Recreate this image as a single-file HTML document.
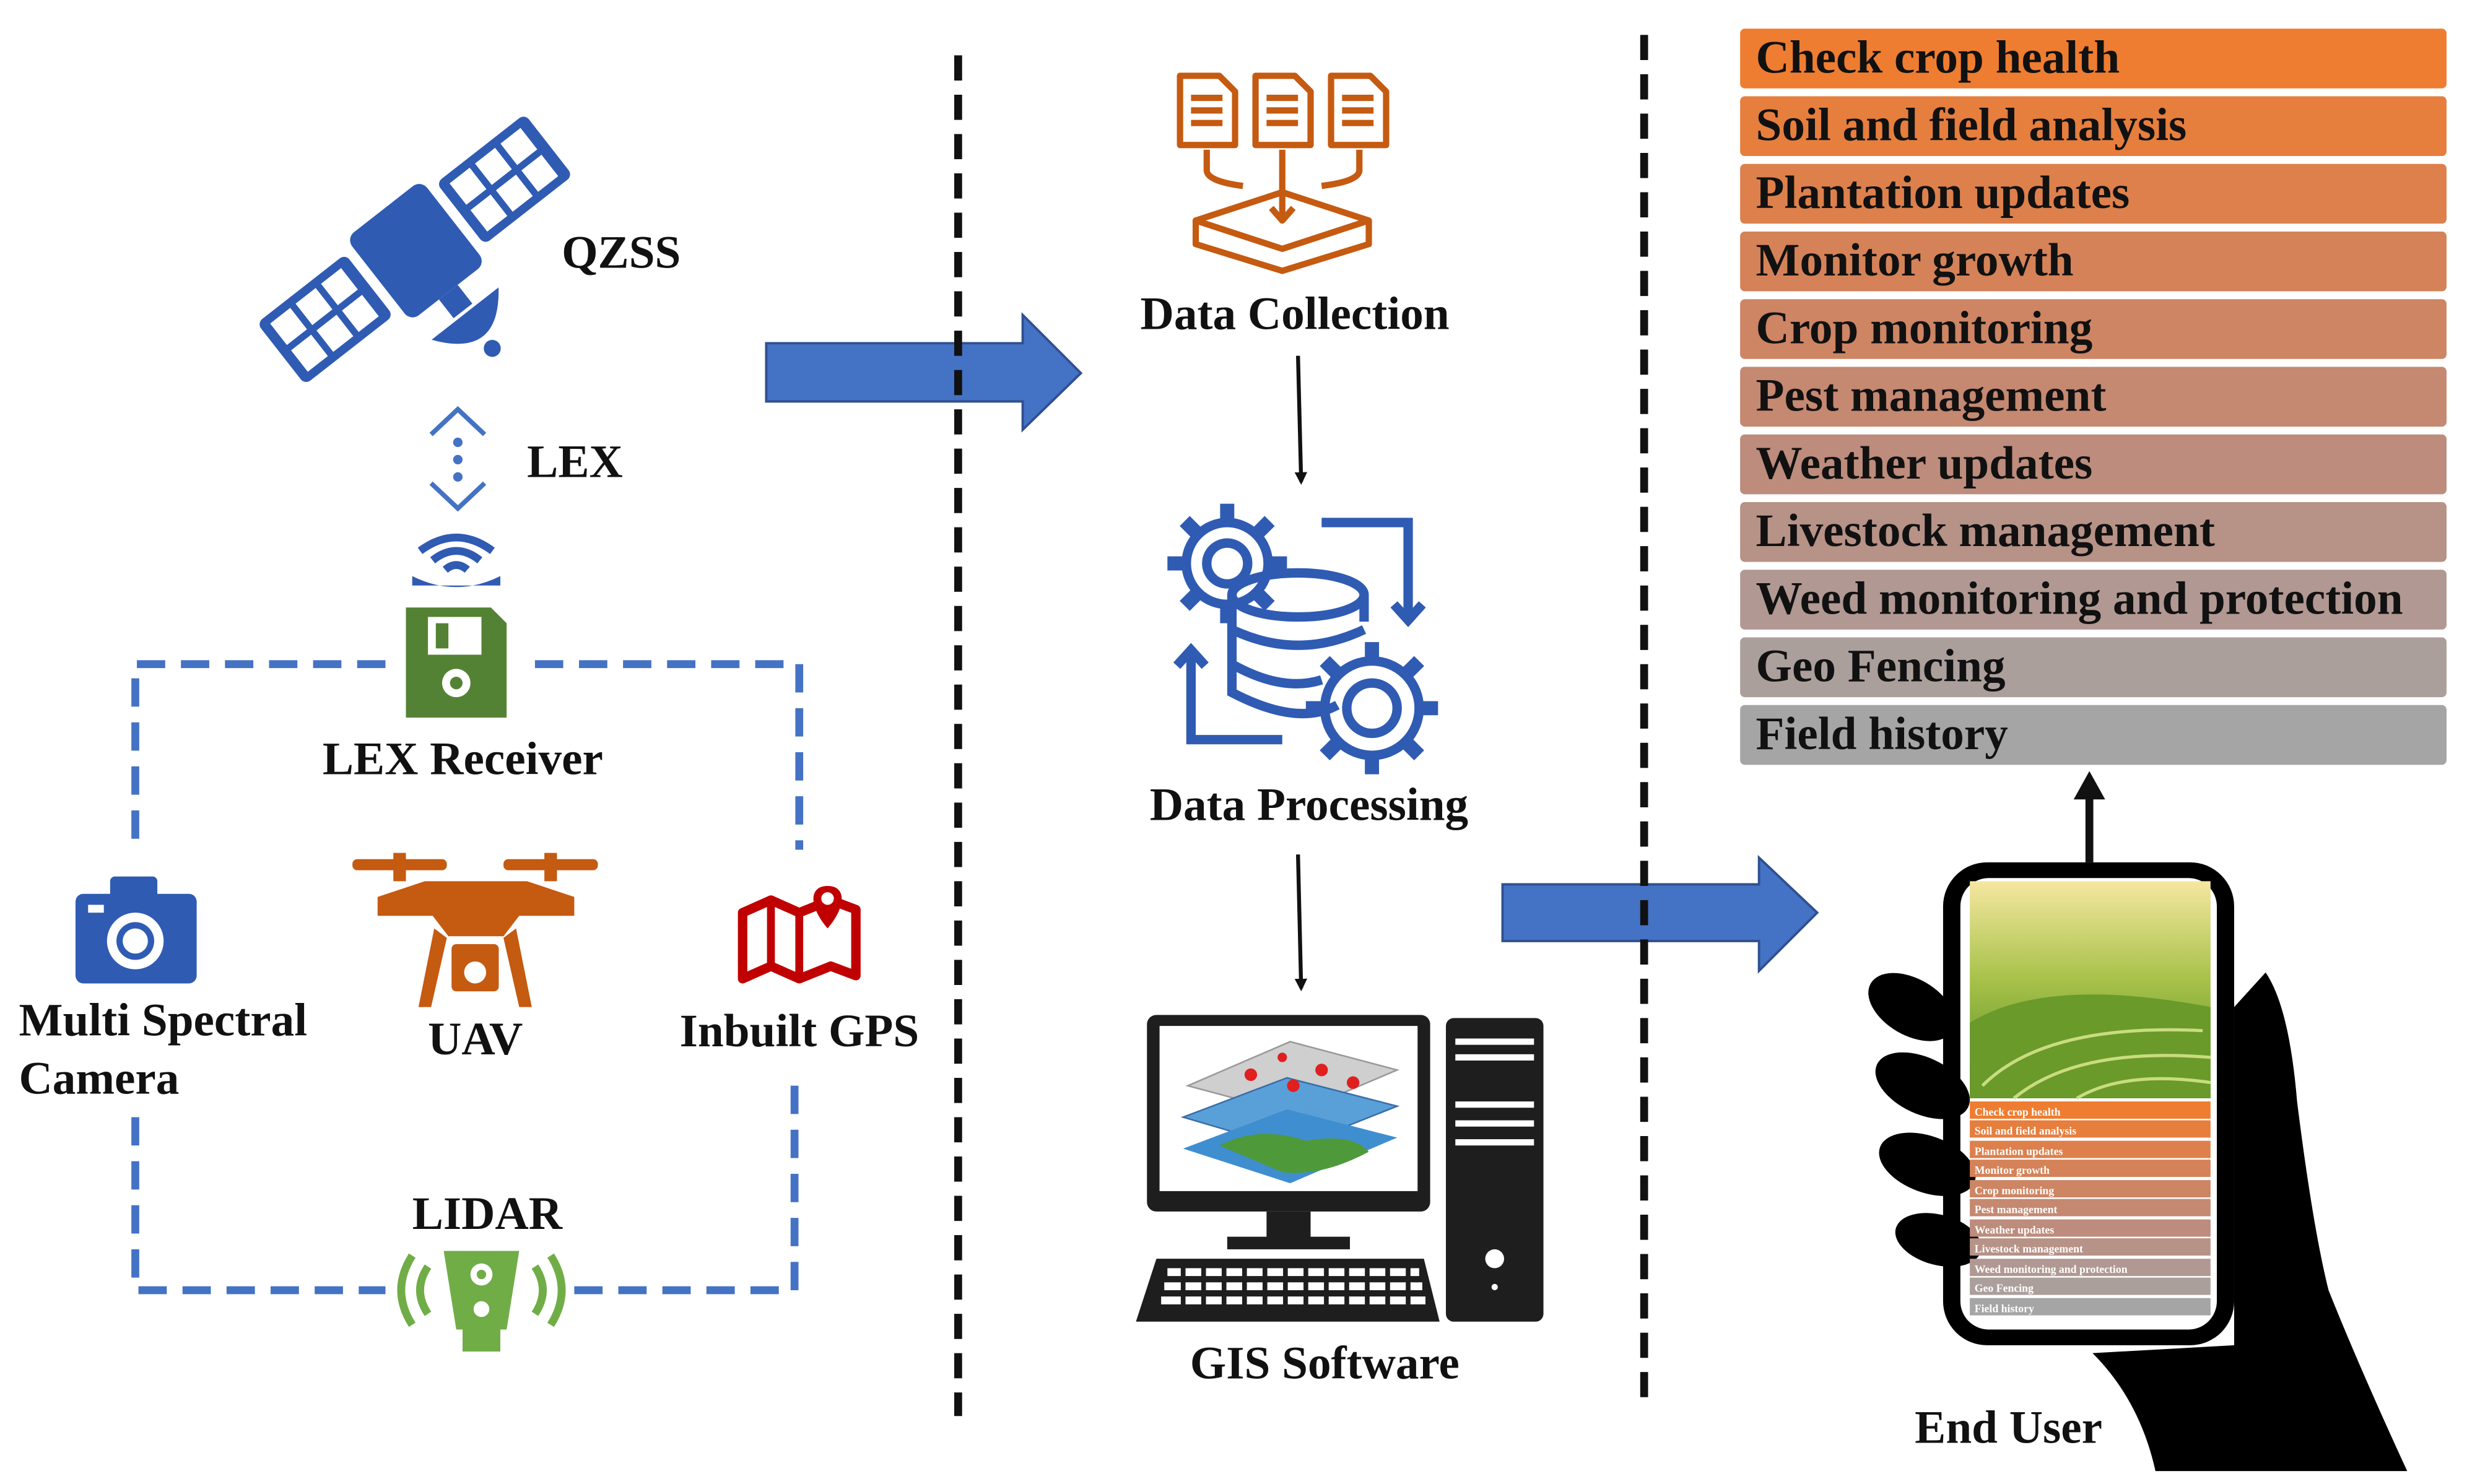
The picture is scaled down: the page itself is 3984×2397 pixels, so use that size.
<!DOCTYPE html>
<html><head><meta charset="utf-8"><style>
html,body{margin:0;padding:0;background:#fff;}
svg{display:block;}
text{font-family:"Liberation Serif","DejaVu Serif",serif;font-weight:bold;fill:#111;}
</style></head><body>
<svg width="3984" height="2397" viewBox="0 0 1568 943" xmlns="http://www.w3.org/2000/svg">
<defs>
<marker id="ah" markerWidth="8" markerHeight="8" refX="6" refY="4" orient="auto" markerUnits="userSpaceOnUse"><path d="M0,0 L8,4 L0,8 Z" fill="#111"/></marker>
<linearGradient id="sky" x1="0" y1="0" x2="0" y2="1"><stop offset="0" stop-color="#f5e7a0"/><stop offset="0.45" stop-color="#a8c24a"/><stop offset="1" stop-color="#4f8a22"/></linearGradient>
</defs>

<!-- Satellite -->
<g transform="rotate(-38 265 160) translate(265 160) scale(1.08) translate(-265 -160)" fill="#2f5bb3">
  <rect x="237" y="128" width="56" height="62" rx="6"/>
  <g>
    <rect x="165" y="135" width="66" height="46" rx="4" fill="#2f5bb3"/>
    <rect x="299" y="135" width="66" height="46" rx="4" fill="#2f5bb3"/>
    <g fill="#fff">
      <rect x="171" y="140" width="15" height="16"/><rect x="190" y="140" width="15" height="16"/><rect x="209" y="140" width="15" height="16"/>
      <rect x="171" y="160" width="15" height="16"/><rect x="190" y="160" width="15" height="16"/><rect x="209" y="160" width="15" height="16"/>
      <rect x="305" y="140" width="15" height="16"/><rect x="324" y="140" width="15" height="16"/><rect x="343" y="140" width="15" height="16"/>
      <rect x="305" y="160" width="15" height="16"/><rect x="324" y="160" width="15" height="16"/><rect x="343" y="160" width="15" height="16"/>
    </g>
  </g>
  <rect x="258" y="190" width="14" height="14"/>
  <path d="M240,206 Q265,240 290,206 Z"/>
  <circle cx="265" cy="232" r="5"/>
</g>
<text x="357" y="170" font-size="29.6">QZSS</text>

<!-- LEX -->
<g stroke="#4472c4" stroke-width="3" fill="none">
  <path d="M274,276 L291,260 L308,276"/>
  <path d="M274,307 L291,323 L308,307"/>
</g>
<g fill="#4472c4"><circle cx="291" cy="281" r="3"/><circle cx="291" cy="292" r="3"/><circle cx="291" cy="303" r="3"/></g>
<text x="335" y="303" font-size="29.6">LEX</text>
<g stroke="#2f5bb3" stroke-width="5" fill="none">
  <path d="M283,362 Q290,356 297,362"/>
  <path d="M275,356 Q290,344 305,356"/>
  <path d="M267,350 Q290,333 313,350"/>
</g>
<path d="M262,366 Q290,380 318,366 L318,372 L262,372 Z" fill="#2f5bb3"/>

<!-- LEX receiver -->
<path d="M258,386 L312,386 L322,396 L322,456 L258,456 Z" fill="#548235"/>
<rect x="272" y="392" width="34" height="24" fill="#fff"/>
<rect x="277" y="396" width="8" height="16" fill="#548235"/>
<circle cx="290" cy="434" r="9" fill="#fff"/><circle cx="290" cy="434" r="4" fill="#548235"/>

<!-- dashed box -->
<g stroke="#4472c4" stroke-width="5" stroke-dasharray="18,10" fill="none">
  <path d="M245,422 L86,422 L86,540"/>
  <path d="M340,422 L508,422 L508,540"/>
  <path d="M86,710 L86,820 L245,820"/>
  <path d="M365,820 L505,820 L505,683"/>
</g>
<text x="205" y="492" font-size="29.6">LEX Receiver</text>

<!-- Camera -->
<rect x="48" y="568" width="77" height="57" rx="5" fill="#2f5bb3"/>
<rect x="70" y="557" width="30" height="14" rx="3" fill="#2f5bb3"/>
<circle cx="86" cy="598" r="18" fill="#fff"/><circle cx="86" cy="598" r="12" fill="#2f5bb3"/><circle cx="86" cy="598" r="8" fill="#fff"/>
<rect x="56" y="575" width="10" height="5" fill="#fff"/>
<text x="12" y="658" font-size="29.6">Multi Spectral</text>
<text x="12" y="695" font-size="29.6">Camera</text>

<!-- UAV -->
<g fill="#c55a11">
  <rect x="224" y="546" width="60" height="7" rx="3"/><rect x="320" y="546" width="60" height="7" rx="3"/>
  <rect x="250" y="542" width="8" height="18"/><rect x="346" y="542" width="8" height="18"/>
  <path d="M240,570 L270,560 L335,560 L365,570 L365,582 L330,582 L320,595 L285,595 L275,582 L240,582 Z"/>
  <rect x="287" y="600" width="30" height="30" rx="3"/>
  <path d="M276,590 L266,640 L274,640 L284,596 Z"/><path d="M328,590 L338,640 L330,640 L320,596 Z"/>
</g>
<circle cx="302" cy="618" r="7" fill="#fff"/>
<text x="272" y="670" font-size="29.6">UAV</text>

<!-- GPS -->
<path d="M472,580 L490,572 L508,580 L528,572 L544,578 L544,620 L528,614 L508,622 L490,614 L472,622 Z" fill="none" stroke="#c00000" stroke-width="6" stroke-linejoin="round"/>
<line x1="490" y1="574" x2="490" y2="614" stroke="#c00000" stroke-width="5"/>
<line x1="508" y1="580" x2="508" y2="620" stroke="#c00000" stroke-width="5"/>
<path d="M526,590 C514,576 514,563 526,563 C538,563 538,576 526,590 Z" fill="#c00000"/>
<circle cx="526" cy="571" r="4" fill="#fff"/>
<text x="432" y="665" font-size="29.6">Inbuilt GPS</text>

<!-- LIDAR -->
<text x="262" y="781" font-size="29.6">LIDAR</text>
<path d="M282,795 L330,795 L322,845 L290,845 Z" fill="#70ad47"/>
<rect x="294" y="845" width="24" height="14" fill="#70ad47"/>
<circle cx="306" cy="810" r="7" fill="#fff"/><circle cx="306" cy="810" r="3" fill="#70ad47"/>
<circle cx="306" cy="832" r="5" fill="#fff"/>
<g stroke="#70ad47" stroke-width="5" fill="none">
  <path d="M272,805 Q262,820 272,835"/><path d="M262,798 Q248,820 262,842"/>
  <path d="M340,805 Q350,820 340,835"/><path d="M350,798 Q364,820 350,842"/>
</g>

<!-- Big arrows -->
<path d="M487,218 L650,218 L650,200 L687,237 L650,273 L650,255 L487,255 Z" fill="#4472c4" stroke="#2f4f8f" stroke-width="1.5"/>
<path d="M955,562 L1118,562 L1118,545 L1155,580 L1118,617 L1118,598 L955,598 Z" fill="#4472c4" stroke="#2f4f8f" stroke-width="1.5"/>

<!-- dashed separators -->
<line x1="609" y1="35" x2="609" y2="900" stroke="#111" stroke-width="5" stroke-dasharray="16,9"/>
<line x1="1045" y1="22" x2="1045" y2="890" stroke="#111" stroke-width="5" stroke-dasharray="16,9"/>

<!-- Data collection icon -->
<g fill="none" stroke="#c55a11" stroke-width="4" stroke-linejoin="round">
  <path d="M750,48 L775,48 L785,58 L785,92 L750,92 Z"/>
  <path d="M798,48 L823,48 L833,58 L833,92 L798,92 Z"/>
  <path d="M846,48 L871,48 L881,58 L881,92 L846,92 Z"/>
  <path d="M757,62 H777 M757,70 H777 M757,78 H777 M805,62 H825 M805,70 H825 M805,78 H825 M853,62 H873 M853,70 H873 M853,78 H873"/>
  <path d="M767,95 V108 Q767,115 790,118"/><path d="M864,95 V108 Q864,115 840,118"/>
  <path d="M815,95 V140"/><path d="M808,132 L815,140 L822,132"/>
  <path d="M760,140 L815,122 L870,140 L815,158 Z"/>
  <path d="M760,140 V155 L815,172 L870,155 V140"/>
</g>
<text x="823" y="209" font-size="29.6" text-anchor="middle">Data Collection</text>
<line x1="825" y1="226" x2="827" y2="306" stroke="#111" stroke-width="2.5" marker-end="url(#ah)"/>

<!-- Data processing icon -->
<g fill="none" stroke="#2f5bb3" stroke-width="6">
  <ellipse cx="825" cy="378" rx="42" ry="14"/>
  <path d="M783,378 V440 Q825,462 850,448"/>
  <path d="M783,400 Q825,420 867,400"/><path d="M783,422 Q815,440 840,432"/>
  <path d="M867,378 V395"/>
  <circle cx="780" cy="358" r="26"/><circle cx="780" cy="358" r="13"/>
  <circle cx="872" cy="450" r="30"/><circle cx="872" cy="450" r="16"/>
  <path d="M840,332 H895 V392"/><path d="M886,384 L895,394 L904,384"/>
  <path d="M757,415 V470 H815"/><path d="M748,423 L757,413 L766,423"/>
</g>
<g stroke="#2f5bb3" stroke-width="9" stroke-linecap="butt">
  <path d="M780,320 V330 M780,386 V396 M742,358 H752 M808,358 H818 M753,331 L760,338 M800,378 L807,385 M753,385 L760,378 M800,338 L807,331"/>
  <path d="M872,408 V418 M872,482 V492 M830,450 H840 M904,450 H914 M842,420 L849,427 M895,473 L902,480 M842,480 L849,473 M895,427 L902,420"/>
</g>
<text x="832" y="521" font-size="29.6" text-anchor="middle">Data Processing</text>
<line x1="825" y1="543" x2="827" y2="628" stroke="#111" stroke-width="2.5" marker-end="url(#ah)"/>

<!-- Computer -->
<rect x="729" y="645" width="180" height="125" rx="6" fill="#1e1e1e"/>
<rect x="737" y="652" width="164" height="105" fill="#fff"/>
<path d="M755,690 L820,662 L888,680 L822,708 Z" fill="#cfcfcf" stroke="#999"/>
<path d="M752,710 L818,685 L888,703 L820,730 Z" fill="#5aa0d8" stroke="#3a6da8"/>
<path d="M752,730 L818,705 L888,723 L820,752 Z" fill="#3f8ed0"/>
<path d="M775,728 Q800,715 830,725 Q860,720 870,732 Q840,748 815,745 Z" fill="#4e9a3a"/>
<g fill="#e02020"><circle cx="795" cy="683" r="4"/><circle cx="822" cy="690" r="4"/><circle cx="840" cy="680" r="4"/><circle cx="860" cy="688" r="4"/><circle cx="815" cy="672" r="3"/></g>
<rect x="805" y="770" width="28" height="18" fill="#1e1e1e"/>
<rect x="780" y="786" width="78" height="8" fill="#1e1e1e"/>
<path d="M735,800 L905,800 L915,840 L722,840 Z" fill="#1e1e1e"/>
<g fill="#fff">
  <rect x="742" y="806" width="160" height="5"/><rect x="740" y="815" width="164" height="5"/><rect x="738" y="824" width="168" height="5"/>
</g>
<g stroke="#1e1e1e" stroke-width="3">
  <path d="M752,804 V832 M765,804 V832 M778,804 V832 M791,804 V832 M804,804 V832 M817,804 V832 M830,804 V832 M843,804 V832 M856,804 V832 M869,804 V832 M882,804 V832 M895,804 V832"/>
</g>
<rect x="919" y="647" width="62" height="193" rx="5" fill="#1e1e1e"/>
<g fill="#fff"><rect x="925" y="660" width="50" height="4"/><rect x="925" y="670" width="50" height="4"/><rect x="925" y="700" width="50" height="4"/><rect x="925" y="712" width="50" height="4"/><rect x="925" y="724" width="50" height="4"/></g>
<circle cx="950" cy="800" r="6" fill="#fff"/><circle cx="950" cy="818" r="2" fill="#fff"/>
<text x="842" y="876" font-size="29.6" text-anchor="middle">GIS Software</text>

<!-- Right bars -->
<g>
<rect x="1106" y="18" width="449" height="38" rx="3" fill="#ee7d31"/>
<rect x="1106" y="61" width="449" height="38" rx="3" fill="#e67e3e"/>
<rect x="1106" y="104" width="449" height="38" rx="3" fill="#dd804c"/>
<rect x="1106" y="147" width="449" height="38" rx="3" fill="#d58258"/>
<rect x="1106" y="190" width="449" height="38" rx="3" fill="#cd8564"/>
<rect x="1106" y="233" width="449" height="38" rx="3" fill="#c58870"/>
<rect x="1106" y="276" width="449" height="38" rx="3" fill="#bd8c7c"/>
<rect x="1106" y="319" width="449" height="38" rx="3" fill="#b79287"/>
<rect x="1106" y="362" width="449" height="38" rx="3" fill="#b19892"/>
<rect x="1106" y="405" width="449" height="38" rx="3" fill="#ab9f9c"/>
<rect x="1106" y="448" width="449" height="38" rx="3" fill="#a5a5a5"/>
</g>
<g font-size="29.6">
<text x="1116" y="46">Check crop health</text>
<text x="1116" y="89">Soil and field analysis</text>
<text x="1116" y="132">Plantation updates</text>
<text x="1116" y="175">Monitor growth</text>
<text x="1116" y="218">Crop monitoring</text>
<text x="1116" y="261">Pest management</text>
<text x="1116" y="304">Weather updates</text>
<text x="1116" y="347">Livestock management</text>
<text x="1116" y="390">Weed monitoring and protection</text>
<text x="1116" y="433">Geo Fencing</text>
<text x="1116" y="476">Field history</text>
</g>
<line x1="1328" y1="548" x2="1328" y2="500" stroke="#111" stroke-width="5"/>
<path d="M1318,508 L1328,490 L1338,508 Z" fill="#111"/>

<!-- Hand & phone -->
<path d="M1420,640 L1440,618 Q1455,640 1460,700 Q1470,780 1480,820 Q1500,870 1530,935 L1370,935 Q1360,890 1330,860 L1420,855 Z" fill="#000"/>
<rect x="1235" y="548" width="185" height="307" rx="28" fill="#000"/>
<rect x="1246" y="558" width="163" height="287" rx="18" fill="#fff"/>
<ellipse cx="1215" cy="640" rx="30" ry="18" transform="rotate(30 1215 640)" fill="#000"/>
<ellipse cx="1222" cy="690" rx="32" ry="18" transform="rotate(25 1222 690)" fill="#000"/>
<ellipse cx="1225" cy="740" rx="32" ry="18" transform="rotate(20 1225 740)" fill="#000"/>
<ellipse cx="1232" cy="788" rx="28" ry="16" transform="rotate(15 1232 788)" fill="#000"/>
<rect x="1252" y="560" width="153" height="138" fill="url(#sky)"/>
<path d="M1252,650 Q1300,620 1405,640 L1405,698 L1252,698 Z" fill="#6a9a2a"/>
<g stroke="#c9dc80" stroke-width="2" fill="none"><path d="M1260,690 Q1300,650 1400,655"/><path d="M1280,698 Q1320,665 1405,672"/><path d="M1320,698 Q1350,680 1405,688"/></g>
<g font-family="Liberation Sans,sans-serif" font-size="7" font-weight="bold">
<rect x="1252" y="700" width="153" height="11" fill="#ee7d31"/>
<rect x="1252" y="712" width="153" height="11" fill="#e67e3e"/>
<rect x="1252" y="725" width="153" height="11" fill="#dd804c"/>
<rect x="1252" y="737" width="153" height="11" fill="#d58258"/>
<rect x="1252" y="750" width="153" height="11" fill="#cd8564"/>
<rect x="1252" y="762" width="153" height="11" fill="#c58870"/>
<rect x="1252" y="775" width="153" height="11" fill="#bd8c7c"/>
<rect x="1252" y="787" width="153" height="11" fill="#b79287"/>
<rect x="1252" y="800" width="153" height="11" fill="#b19892"/>
<rect x="1252" y="812" width="153" height="11" fill="#ab9f9c"/>
<rect x="1252" y="825" width="153" height="11" fill="#a5a5a5"/>
<text x="1255" y="709" style="fill:#fff">Check crop health</text>
<text x="1255" y="721" style="fill:#fff">Soil and field analysis</text>
<text x="1255" y="734" style="fill:#fff">Plantation updates</text>
<text x="1255" y="746" style="fill:#fff">Monitor growth</text>
<text x="1255" y="759" style="fill:#fff">Crop monitoring</text>
<text x="1255" y="771" style="fill:#fff">Pest management</text>
<text x="1255" y="784" style="fill:#fff">Weather updates</text>
<text x="1255" y="796" style="fill:#fff">Livestock management</text>
<text x="1255" y="809" style="fill:#fff">Weed monitoring and protection</text>
<text x="1255" y="821" style="fill:#fff">Geo Fencing</text>
<text x="1255" y="834" style="fill:#fff">Field history</text>
</g>
<text x="1217" y="917" font-size="29.6">End User</text>
</svg>
</body></html>
